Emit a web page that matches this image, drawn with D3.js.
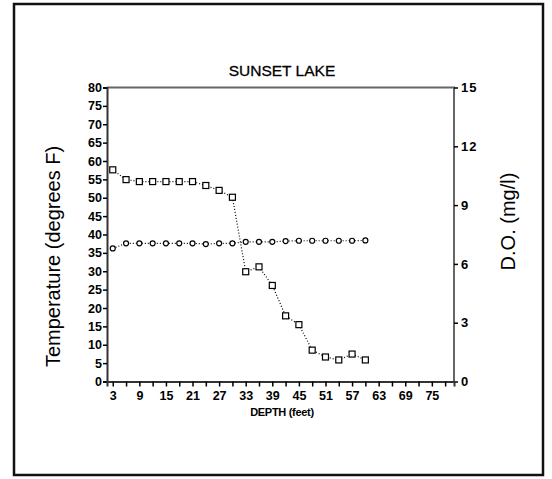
<!DOCTYPE html>
<html><head><meta charset="utf-8">
<script src="https://cdn.jsdelivr.net/npm/d3@7"></script>
<style>body{margin:0;background:#fff;} svg{display:block;font-family:"Liberation Sans",Arial,sans-serif;}</style>
</head><body><svg id="c" width="552" height="479"></svg>
<script>
const depths = [3,6,9,12,15,18,21,24,27,30,33,36,39,42,45,48,51,54,57,60];
const temperature = [36.2,37.6,37.6,37.6,37.6,37.6,37.6,37.4,37.6,37.6,38.0,38.0,38.0,38.2,38.3,38.3,38.3,38.3,38.3,38.4];
const dissolvedOxygen = [10.8,10.3,10.2,10.2,10.2,10.2,10.2,10.0,9.75,9.4,5.6,5.85,4.9,3.35,2.9,1.6,1.25,1.1,1.4,1.1];
const xTickLabels = [3,9,15,21,27,33,39,45,51,57,63,69,75];
const xMinorTicks = d3.range(3,79,3);
const tempTicks = d3.range(0,81,5);
const doTicks = [0,3,6,9,12,15];

const svg = d3.select("#c");
const L=107, R=454, T=87.5, B=381.5;
const x = d3.scaleLinear().domain([1.7,80]).range([L,R]);
const yT = d3.scaleLinear().domain([0,80]).range([B,T]);
const yD = d3.scaleLinear().domain([0,15]).range([B,T]);

// outer frame
svg.append("rect").attr("x",14).attr("y",4).attr("width",529).attr("height",471)
  .attr("fill","none").attr("stroke","#111").attr("stroke-width",2.5);

// plot border (top and right)
svg.append("path").attr("d",`M${L},${T}H${R}V${B}`).attr("fill","none").attr("stroke","#666").attr("stroke-width",2);

const fontTick = g => g.selectAll("text").attr("font-size",12.5).attr("font-weight","bold").attr("fill","#000").attr("font-family","'Liberation Sans',Arial,sans-serif");

// left axis
const gl = svg.append("g").attr("transform",`translate(${L},0)`)
  .call(d3.axisLeft(yT).tickValues(tempTicks).tickSize(4).tickPadding(1).tickFormat(d3.format("d")));
gl.select(".domain").attr("stroke","#333").attr("stroke-width",2);
gl.selectAll(".tick line").attr("stroke","#000").attr("stroke-width",1.5);
fontTick(gl);

// right axis
const gr = svg.append("g").attr("transform",`translate(${R},0)`)
  .call(d3.axisRight(yD).tickValues(doTicks).tickSize(4).tickPadding(3).tickFormat(d3.format("d")));
gr.select(".domain").remove();
gr.selectAll(".tick line").attr("stroke","#000").attr("stroke-width",1.5);
fontTick(gr);
gr.selectAll("text").attr("font-size",13).attr("letter-spacing","1px");

// bottom axis minor ticks
const gb = svg.append("g").attr("transform",`translate(0,${B})`)
  .call(d3.axisBottom(x).tickValues(xMinorTicks).tickSize(5).tickFormat(""));
gb.select(".domain").attr("stroke","#333").attr("stroke-width",2);
gb.selectAll(".tick line").attr("stroke","#000").attr("stroke-width",1.5);
const gb2 = svg.append("g").attr("transform",`translate(0,${B})`)
  .call(d3.axisBottom(x).tickValues(xTickLabels).tickSize(5).tickPadding(5).tickFormat(d3.format("d")));
gb2.select(".domain").remove();
gb2.selectAll(".tick line").remove();
fontTick(gb2);

// titles
svg.append("text").attr("x",282).attr("y",76).attr("text-anchor","middle").attr("font-size",15.5).attr("stroke","#000").attr("stroke-width",0.3).text("SUNSET LAKE");
svg.append("text").attr("x",282).attr("y",416).attr("text-anchor","middle").attr("font-size",11).attr("font-weight","bold").attr("letter-spacing","-0.3px").text("DEPTH (feet)");
svg.append("text").attr("transform",`translate(60,${(T+B)/2+22}) rotate(-90)`).attr("text-anchor","middle").attr("font-size",20).text("Temperature (degrees F)");
svg.append("text").attr("transform",`translate(515,${(T+B)/2-13}) rotate(-90)`).attr("text-anchor","middle").attr("font-size",20).text("D.O. (mg/l)");

// lines
const lineT = d3.line().x((d,i)=>x(depths[i])).y(d=>yT(d));
const lineD = d3.line().x((d,i)=>x(depths[i])).y(d=>yD(d));
svg.append("path").datum(temperature).attr("d",lineT).attr("fill","none").attr("stroke","#000").attr("stroke-width",1.2).attr("stroke-dasharray","1,2");
svg.append("path").datum(dissolvedOxygen).attr("d",lineD).attr("fill","none").attr("stroke","#000").attr("stroke-width",1.2).attr("stroke-dasharray","1,2");

// markers
svg.append("g").selectAll("circle").data(temperature).join("circle")
  .attr("cx",(d,i)=>x(depths[i])).attr("cy",d=>yT(d)).attr("r",2.5)
  .attr("fill","#fff").attr("stroke","#000").attr("stroke-width",1.2);
svg.append("g").selectAll("rect").data(dissolvedOxygen).join("rect")
  .attr("x",(d,i)=>x(depths[i])-3).attr("y",d=>yD(d)-3).attr("width",6).attr("height",6)
  .attr("fill","#fff").attr("stroke","#000").attr("stroke-width",1.2);
</script></body></html>
